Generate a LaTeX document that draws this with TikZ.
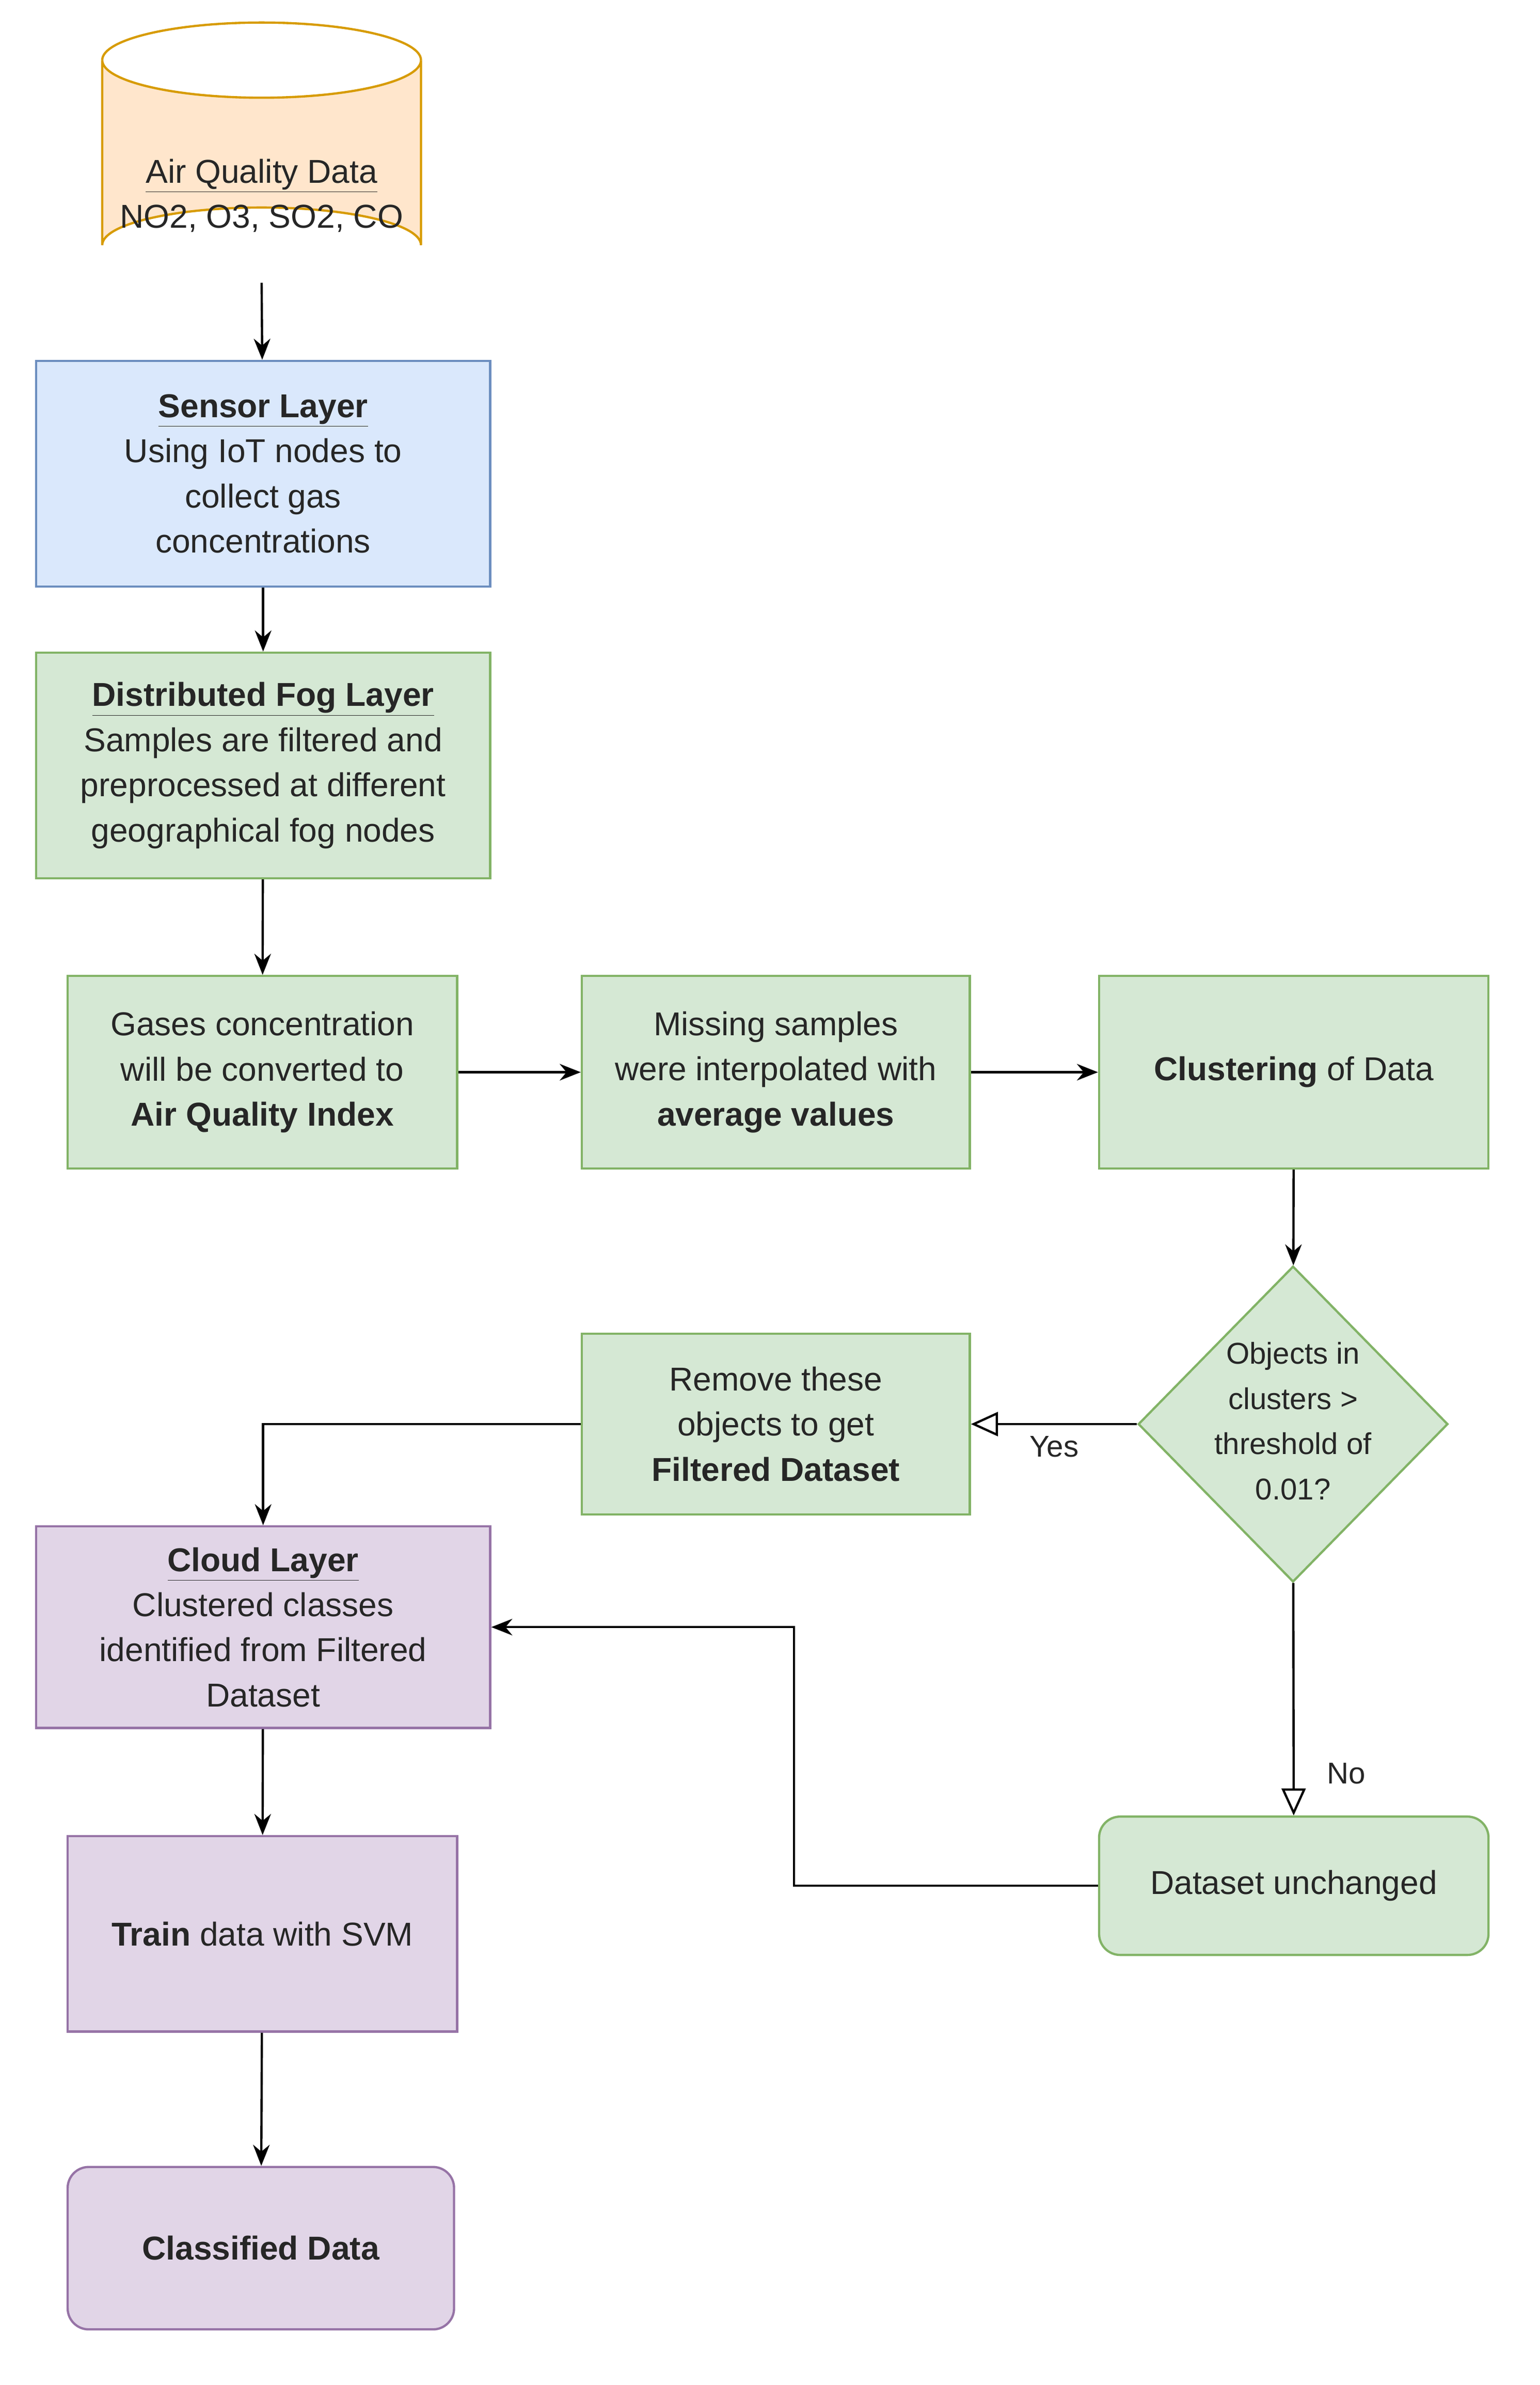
\documentclass[tikz,border=0pt]{standalone}
\usepackage{fontspec}
\setmainfont{Liberation Sans}
\usetikzlibrary{arrows.meta,shapes.geometric}
\definecolor{gF}{HTML}{D5E8D4}\definecolor{gS}{HTML}{82B366}
\definecolor{bF}{HTML}{DAE8FC}\definecolor{bS}{HTML}{6C8EBF}
\definecolor{pF}{HTML}{E1D5E7}\definecolor{pS}{HTML}{9673A6}
\definecolor{oF}{HTML}{FFE6CC}\definecolor{oS}{HTML}{D79B00}
\begin{document}
\begin{tikzpicture}[x=1pt,y=-1pt,
 every node/.style={font=\fontsize{22}{30}\selectfont,align=center,text=black!85},
 box/.style={draw=#1S,fill=#1F,line width=1.5pt,inner sep=0pt},
 arr/.style={-{Stealth[length=14pt,width=11pt]},line width=1.5pt},
 oarr/.style={-{Triangle[open,length=18pt,width=16pt]},line width=1.5pt}]
\useasboundingbox (0,0) rectangle (1024,1586);
% cylinder
\draw[draw=oS,fill=oF,line width=1.5pt] (68,40) -- (68,163) arc[start angle=180,end angle=360,x radius=106,y radius=25] -- (280,40) arc[start angle=0,end angle=180,x radius=106,y radius=25];
\draw[draw=oS,line width=1.5pt] (68,40) arc[start angle=180,end angle=360,x radius=106,y radius=25];
\node (cyl) at (174,130) {\underline{Air Quality Data}\\NO2, O3, SO2, CO};
\coordinate (cylb) at (174,188);
\node[box=b,minimum width=302,minimum height=150] (sensor) at (175,315) {\underline{\textbf{Sensor Layer}}\\Using IoT nodes to\\collect gas\\concentrations};
\node[box=g,minimum width=302,minimum height=150] (fog) at (175,509) {\underline{\textbf{Distributed Fog Layer}}\\Samples are filtered and\\preprocessed at different\\geographical fog nodes};
\node[box=g,minimum width=259,minimum height=128] (gas) at (174.5,713) {Gases concentration\\will be converted to\\\textbf{Air Quality Index}};
\node[box=g,minimum width=258,minimum height=128] (miss) at (516,713) {Missing samples\\were interpolated with\\\textbf{average values}};
\node[box=g,minimum width=259,minimum height=128] (clus) at (860.5,713) {\textbf{Clustering} of Data};
\node[box=g,diamond,minimum width=206,minimum height=210,font=\fontsize{20}{30}\selectfont] (dia) at (860,947) {};
\node[font=\fontsize{20}{30}\selectfont] at (860,945) {Objects in\\clusters >\\threshold of\\0.01?};
\node[box=g,minimum width=258,minimum height=120] (rem) at (516,947) {Remove these\\objects to get\\\textbf{Filtered Dataset}};
\node[box=p,minimum width=302,minimum height=134] (cloud) at (175,1082) {\underline{\textbf{Cloud Layer}}\\Clustered classes\\identified from Filtered\\Dataset};
\node[box=p,minimum width=259,minimum height=130] (train) at (174.5,1286) {\textbf{Train} data with SVM};
\node[box=p,rounded corners=14pt,minimum width=257,minimum height=108] (cls) at (173.5,1495) {\textbf{Classified Data}};
\node[box=g,rounded corners=14pt,minimum width=259,minimum height=92] (ds) at (860.5,1254) {Dataset unchanged};
\draw[arr] (cylb) -- (sensor);
\draw[arr] (sensor) -- (fog);
\draw[arr] (fog) -- (gas);
\draw[arr] (gas) -- (miss);
\draw[arr] (miss) -- (clus);
\draw[arr] (clus) -- (dia);
\draw[oarr] (dia) -- node[below,pos=0.5,yshift=-4pt,font=\fontsize{20}{24}\selectfont]{Yes} (rem);
\draw[oarr] (dia) -- node[right,pos=0.82,xshift=18pt,font=\fontsize{20}{24}\selectfont]{No} (ds);
\draw[arr] (rem.west) -| (cloud.north);
\draw[arr] (ds.west) -- (528,1254) |- (cloud.east);
\draw[arr] (cloud) -- (train);
\draw[arr] (train) -- (cls);
\end{tikzpicture}
\end{document}
